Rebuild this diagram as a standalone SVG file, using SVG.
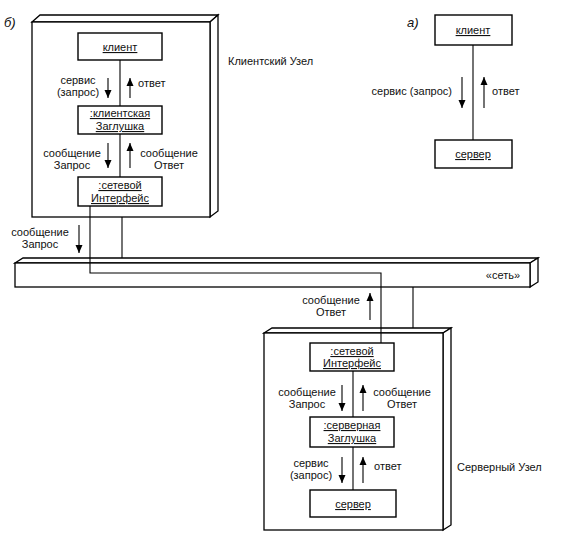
<svg xmlns="http://www.w3.org/2000/svg" width="561" height="541" viewBox="0 0 561 541">
<defs>
<marker id="ah" viewBox="0 0 8 10" refX="8" refY="5" markerWidth="8" markerHeight="10" markerUnits="userSpaceOnUse" orient="auto">
<path d="M0,1.5 L8,5 L0,8.5 Z" fill="#000"/>
</marker>
</defs>
<style>
text{font-family:"Liberation Sans",Arial,sans-serif;font-size:11px;fill:#111}
.m{text-anchor:middle}
.u{text-decoration:underline}
.it{font-style:italic;font-size:13px}
.box{fill:#fff;stroke:#000;stroke-width:1.4}
.node{fill:#fff;stroke:#000;stroke-width:1.3}
.ln{fill:none;stroke:#000;stroke-width:1.1}
.ar{fill:none;stroke:#000;stroke-width:1.1;marker-end:url(#ah)}
</style>
<rect width="561" height="541" fill="#fff"/>

<text class="it" x="4" y="27">б)</text>
<text class="it" x="407" y="27">а)</text>

<g id="client-node">
<polygon class="node" points="32,22 40,15 218,15 210,22"/>
<polygon class="node" points="210,22 218,15 218,211 210,217"/>
<rect class="node" x="32" y="22" width="178" height="195"/>
<text x="228" y="65">Клиентский Узел</text>
</g>

<g id="network">
<polygon class="node" points="15,263 23,258 538,258 530,263"/>
<polygon class="node" points="530,263 538,258 538,282 530,287"/>
<rect class="node" x="15" y="263" width="515" height="24"/>
<text class="m" x="503" y="279">«сеть»</text>
</g>

<g id="server-node">
<polygon class="node" points="264,333 272,328 451,328 443,333"/>
<polygon class="node" points="443,333 451,328 451,525 443,530"/>
<rect class="node" x="264" y="333" width="179" height="197"/>
<text x="457" y="471">Серверный Узел</text>
</g>

<g id="connectors">
<line class="ln" x1="120" y1="60" x2="120" y2="106"/>
<line class="ln" x1="120" y1="134" x2="120" y2="177"/>
<path class="ln" d="M90,206 V273 H381 V343"/>
<line class="ln" x1="122" y1="217" x2="122" y2="258"/>
<line class="ln" x1="413" y1="287" x2="413" y2="328"/>
<line class="ln" x1="353" y1="371" x2="353" y2="417"/>
<line class="ln" x1="353" y1="447" x2="353" y2="490"/>
<line class="ln" x1="473" y1="45" x2="473" y2="140"/>

<line class="ar" x1="108" y1="78" x2="108" y2="98"/>
<line class="ar" x1="130" y1="98" x2="130" y2="78"/>
<line class="ar" x1="108" y1="143" x2="108" y2="168"/>
<line class="ar" x1="130" y1="168" x2="130" y2="143"/>
<line class="ar" x1="79" y1="225" x2="79" y2="253"/>
<line class="ar" x1="370" y1="320" x2="370" y2="293"/>
<line class="ar" x1="342" y1="385" x2="342" y2="411"/>
<line class="ar" x1="363" y1="411" x2="363" y2="385"/>
<line class="ar" x1="342" y1="457" x2="342" y2="483"/>
<line class="ar" x1="363" y1="483" x2="363" y2="457"/>
<line class="ar" x1="462" y1="77" x2="462" y2="108"/>
<line class="ar" x1="484" y1="108" x2="484" y2="77"/>

<text class="m" x="78" y="84">сервис</text>
<text class="m" x="78" y="96">(запрос)</text>
<text x="138" y="87">ответ</text>
<text class="m" x="72" y="157">сообщение</text>
<text class="m" x="72" y="169">Запрос</text>
<text class="m" x="169" y="157">сообщение</text>
<text class="m" x="169" y="169">Ответ</text>
<text class="m" x="40" y="236">сообщение</text>
<text class="m" x="40" y="248">Запрос</text>
<text class="m" x="331" y="304">сообщение</text>
<text class="m" x="331" y="316">Ответ</text>
<text class="m" x="307" y="396">сообщение</text>
<text class="m" x="307" y="408">Запрос</text>
<text class="m" x="402" y="396">сообщение</text>
<text class="m" x="402" y="408">Ответ</text>
<text class="m" x="311" y="467">сервис</text>
<text class="m" x="311" y="479">(запрос)</text>
<text x="374" y="470">ответ</text>
<text x="452" y="95" text-anchor="end">сервис (запрос)</text>
<text x="492" y="95">ответ</text>
</g>

<g id="client">
<rect class="box" x="78" y="33" width="84" height="27"/>
<text class="m u" x="120" y="51">клиент</text>
</g>
<g id="client-stub">
<rect class="box" x="78" y="106" width="84" height="28"/>
<text class="m u" x="120" y="117">:клиентская</text>
<text class="m u" x="120" y="130">Заглушка</text>
</g>
<g id="client-net-iface">
<rect class="box" x="78" y="177" width="84" height="29"/>
<text class="m u" x="120" y="189">:сетевой</text>
<text class="m u" x="120" y="202">Интерфейс</text>
</g>

<g id="server-net-iface">
<rect class="box" x="310" y="343" width="84" height="28"/>
<text class="m u" x="352" y="355">:сетевой</text>
<text class="m u" x="352" y="367">Интерфейс</text>
</g>
<g id="server-stub">
<rect class="box" x="310" y="417" width="84" height="30"/>
<text class="m u" x="352" y="429">:серверная</text>
<text class="m u" x="352" y="442">Заглушка</text>
</g>
<g id="server">
<rect class="box" x="310" y="490" width="86" height="27"/>
<text class="m u" x="353" y="508">сервер</text>
</g>

<g id="a-client">
<rect class="box" x="435" y="15" width="77" height="30"/>
<text class="m u" x="473" y="34">клиент</text>
</g>
<g id="a-server">
<rect class="box" x="435" y="140" width="77" height="28"/>
<text class="m u" x="473" y="158">сервер</text>
</g>
</svg>
